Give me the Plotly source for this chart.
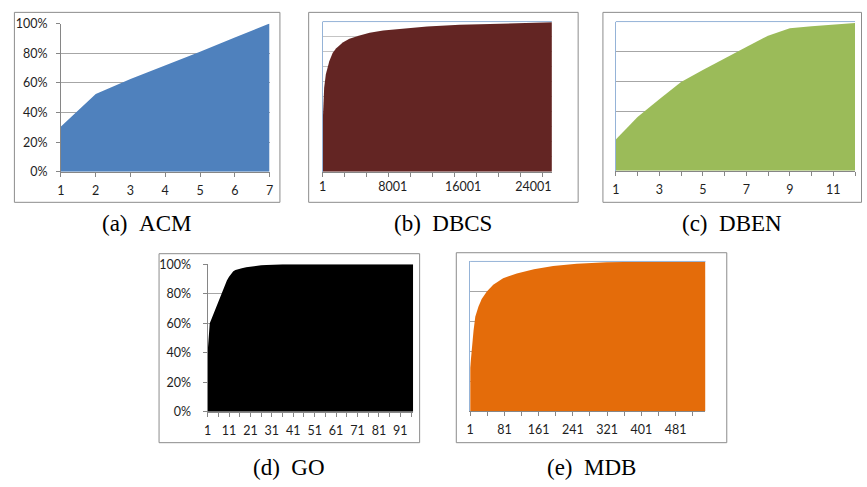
import plotly.graph_objects as go

W, H = 867, 487

# ---------------- data ----------------
acm_x = [1, 2, 3, 4, 5, 6, 7]
acm_y = [0.305, 0.525, 0.625, 0.715, 0.81, 0.905, 1.0]
acm_ticks = [1, 2, 3, 4, 5, 6, 7]

dbcs_x = [1, 70, 185, 380, 760, 1150, 1530, 2300, 3060, 4210, 5360, 6900,
          9200, 11900, 15600, 19400, 23000, 26100]
dbcs_y = [0.30, 0.43, 0.56, 0.65, 0.735, 0.79, 0.82, 0.86, 0.886, 0.908, 0.925, 0.94,
          0.955, 0.968, 0.978, 0.986, 0.992, 0.996]
dbcs_ticks = [1, 8001, 16001, 24001]

dben_x = [1, 2, 3, 4, 5, 6, 7, 8, 9, 10, 11, 12]
dben_y = [0.21, 0.36, 0.48, 0.595, 0.675, 0.755, 0.83, 0.905, 0.955, 0.968, 0.978, 0.99]
dben_ticks = [1, 3, 5, 7, 9, 11]

go_x = [1, 2, 3, 4, 5, 6, 7, 8, 9, 10, 11, 12, 13, 14, 15, 16, 17, 19, 22, 26, 31, 36, 97]
go_y = [0.40, 0.60, 0.636, 0.672, 0.708, 0.745, 0.782, 0.82, 0.858, 0.89, 0.915, 0.937,
        0.953, 0.962, 0.967, 0.970, 0.973, 0.980, 0.988, 0.994, 0.998, 1.0, 1.0]
go_ticks = [1, 11, 21, 31, 41, 51, 61, 71, 81, 91]

mdb_x = [1, 3, 5, 9, 13, 20, 28, 40, 55, 78, 110, 150, 195, 250, 320, 400, 551]
mdb_y = [0.29, 0.36, 0.42, 0.54, 0.63, 0.695, 0.75, 0.80, 0.845, 0.888, 0.92, 0.948,
         0.97, 0.985, 0.994, 0.998, 1.0]
mdb_ticks = [1, 81, 161, 241, 321, 401, 481]

captions = ["(a)\u2002ACM", "(b)\u2002DBCS", "(c)\u2002DBEN", "(d)\u2002GO", "(e)\u2002MDB"]
colors = ["#4F81BD", "#632523", "#9BBB59", "#000000", "#E46C0A"]

# ---------------- layout helpers ----------------
def fx(p):
    return p / W


def fy(p):
    return 1 - p / H


TICK_FONT = dict(family="Lato, 'Liberation Sans', sans-serif", size=12.5, color="#1E1E1E")
CAP_FONT = dict(family="'Liberation Serif', 'DejaVu Serif', serif", size=23, color="#000000")
AXIS_GRAY = "#868686"
GRID_GRAY = "#A6A6A6"
BLUE = "#95B3D7"

panels = [
    dict(x=acm_x, y=acm_y, ticks=acm_ticks, plot=(57.5, 16, 268, 169),
         frame=(10.5, 4.5, 278.5, 200.5), cap=(144, 222), xmax=7),
    dict(x=dbcs_x, y=dbcs_y, ticks=dbcs_ticks, plot=(321.5, 14, 553, 169),
         frame=(307.5, 4.5, 579.5, 200.5), cap=(443, 222), xmax=26100),
    dict(x=dben_x, y=dben_y, ticks=dben_ticks, plot=(617.5, 14, 859, 168),
         frame=(604.5, 4.5, 865.5, 200.5), cap=(735, 222), xmax=12),
    dict(x=go_x, y=go_y, ticks=go_ticks, plot=(205.5, 264.5, 413, 416.5),
         frame=(156.5, 253.5, 419.5, 448.5), cap=(288, 474), xmax=97),
    dict(x=mdb_x, y=mdb_y, ticks=mdb_ticks, plot=(470.5, 261.5, 708, 416),
         frame=(456.5, 252.5, 729.5, 448.5), cap=(593, 474), xmax=551),
]
minor_step = [None, 2500, 1, 5, 40]

fig = go.Figure()
shapes = []
annotations = []

for i, p in enumerate(panels):
    n = "" if i == 0 else str(i + 1)
    l, t, r, b = p["plot"]
    fig.add_trace(go.Scatter(
        x=p["x"], y=p["y"], mode="lines", fill="tozeroy",
        fillcolor=colors[i], line=dict(width=0, color=colors[i]),
        xaxis="x" + n, yaxis="y" + n, hoverinfo="skip", showlegend=False,
    ))
    fl, ft, fr, fb = p["frame"]
    shapes.append(dict(type="rect", xref="paper", yref="paper",
                       x0=fx(fl), x1=fx(fr), y0=fy(fb), y1=fy(ft),
                       line=dict(color="#8C8C8C", width=1), layer="below"))
    annotations.append(dict(text=captions[i], xref="paper", yref="paper",
                            x=fx(p["cap"][0]), y=fy(p["cap"][1]),
                            xanchor="center", yanchor="middle", showarrow=False,
                            font=CAP_FONT))

    xa = dict(domain=[fx(l), fx(r)], anchor="y" + n, range=[1, p["xmax"]],
              showgrid=False, zeroline=False, showline=True, linecolor=AXIS_GRAY,
              linewidth=1, ticks="outside", ticklen=4, tickcolor=AXIS_GRAY,
              tickfont=TICK_FONT, ticklabelstandoff=3, fixedrange=True,
              tickmode="array", tickvals=p["ticks"],
              ticktext=[str(v) for v in p["ticks"]])
    if minor_step[i] is not None:
        xa["minor"] = dict(tick0=1, dtick=minor_step[i], ticks="outside", ticklen=4,
                           tickcolor=AXIS_GRAY, showgrid=False)
    ya = dict(domain=[fy(b), fy(t)], anchor="x" + n, range=[0, 1],
              showgrid=True, gridcolor=GRID_GRAY, gridwidth=1, zeroline=False,
              showline=True, linewidth=1, fixedrange=True, tickfont=TICK_FONT)

    if i == 0:
        ya.update(dtick=0.2, tickformat=".0%", ticks="outside", ticklen=4,
                  tickcolor=AXIS_GRAY, linecolor=AXIS_GRAY, ticklabelstandoff=6)
    elif i == 1:
        xa.update(ticks="")
        ya.update(dtick=0.1, showticklabels=False, ticks="", linecolor=BLUE,
                  gridcolor="#C4C4C4")
    elif i == 3:
        ya.update(dtick=0.2, tickformat=".0%", ticks="outside", ticklen=4,
                  tickcolor=AXIS_GRAY, linecolor=AXIS_GRAY, ticklabelstandoff=9)
    else:
        ya.update(dtick=0.2, showticklabels=False, ticks="", linecolor=BLUE)

    if i in (1, 2, 4):
        shapes.append(dict(type="line", xref="paper", yref="paper",
                           x0=fx(l), x1=fx(r), y0=fy(t), y1=fy(t),
                           line=dict(color=BLUE, width=1), layer="above"))

    fig.layout["xaxis" + n] = xa
    fig.layout["yaxis" + n] = ya

fig.update_layout(
    width=W, height=H, autosize=False,
    margin=dict(l=0, r=0, t=0, b=0, pad=0),
    paper_bgcolor="white", plot_bgcolor="white",
    shapes=shapes, annotations=annotations, showlegend=False,
)

fig.write_html("out.html", config={"displayModeBar": False, "staticPlot": True},
               post_script="document.body.style.margin='0';")
